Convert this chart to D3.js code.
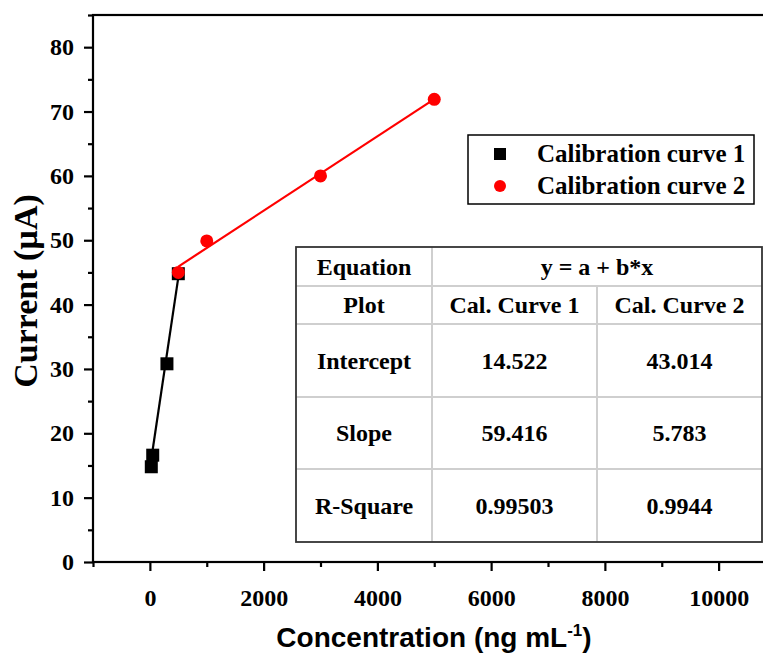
<!DOCTYPE html>
<html><head><meta charset="utf-8">
<script src="https://cdn.jsdelivr.net/npm/d3@7"></script>
<style>
html,body{margin:0;padding:0;background:#fff;}
svg{display:block;}
</style>
</head><body>
<svg id="chart" width="763" height="654"></svg>
<script>
// ---- data ----
const seriesNames = ["Calibration curve 1", "Calibration curve 2"];
const conc1 = [25, 50, 300, 500];
const current1 = [14.8, 16.6, 30.8, 44.8];
const conc2 = [500, 1000, 3000, 5000];
const current2 = [45.0, 49.9, 60.0, 71.9];
const fitIntercept = [14.522, 43.014];
const fitSlope = [59.416, 5.783];   // per µg mL-1
const rSquare = ["0.99503", "0.9944"];
const xMajorTicks = [0, 2000, 4000, 6000, 8000, 10000];
const xMinorTicks = [-1000, 1000, 3000, 5000, 7000, 9000, 11000];
const yMajorTicks = [0, 10, 20, 30, 40, 50, 60, 70, 80];
const yMinorTicks = [5, 15, 25, 35, 45, 55, 65, 75, 85];
const tableRowLabels = ["Equation", "Plot", "Intercept", "Slope", "R-Square"];
const tableColHeads = ["Cal. Curve 1", "Cal. Curve 2"];
const equationText = "y = a + b*x";

// ---- layout ----
const svg = d3.select("#chart");
const serif = "'Liberation Serif','Times New Roman',serif";
const sans = "'Liberation Sans',Arial,sans-serif";

const x = d3.scaleLinear().domain([-1000, 11000]).range([93, 775.5]);
const y = d3.scaleLinear().domain([0, 85]).range([562, 15]);

// frame
svg.append("rect")
  .attr("x", x(-1000)).attr("y", y(85))
  .attr("width", x(11000) - x(-1000)).attr("height", y(0) - y(85))
  .attr("fill", "none").attr("stroke", "#000").attr("stroke-width", 2.2);

function styleAxis(g, size) {
  g.select(".domain").remove();
  g.selectAll(".tick line").attr("stroke", "#000").attr("stroke-width", 2.2);
  g.selectAll(".tick text").attr("font-family", serif).attr("font-weight", "bold")
    .attr("font-size", size).attr("fill", "#000");
}

// x axis
const gxMinor = svg.append("g").attr("transform", `translate(0,${y(0)})`)
  .call(d3.axisBottom(x).tickValues(xMinorTicks).tickSize(5).tickFormat(""));
styleAxis(gxMinor, 0);
const gx = svg.append("g").attr("transform", `translate(0,${y(0)})`)
  .call(d3.axisBottom(x).tickValues(xMajorTicks).tickSize(9).tickPadding(18).tickFormat(d3.format("d")));
styleAxis(gx, 24);

// y axis
const gyMinor = svg.append("g").attr("transform", `translate(${x(-1000)},0)`)
  .call(d3.axisLeft(y).tickValues(yMinorTicks).tickSize(5).tickFormat(""));
styleAxis(gyMinor, 0);
const gy = svg.append("g").attr("transform", `translate(${x(-1000)},0)`)
  .call(d3.axisLeft(y).tickValues(yMajorTicks).tickSize(9).tickPadding(10));
styleAxis(gy, 24);

// axis titles
const xt = svg.append("text")
  .attr("x", 434).attr("y", 647)
  .attr("text-anchor", "middle")
  .attr("font-family", sans).attr("font-weight", "bold").attr("font-size", 28)
  .attr("fill", "#000");
xt.append("tspan").text("Concentration (ng mL");
xt.append("tspan").attr("font-size", 17).attr("dy", -11).text("-1");
xt.append("tspan").attr("dy", 11).text(")");

svg.append("text")
  .attr("transform", "translate(37,291) rotate(-90)")
  .attr("text-anchor", "middle")
  .attr("font-family", serif).attr("font-weight", "bold").attr("font-size", 34)
  .attr("fill", "#000")
  .text("Current (\u00B5A)");

// fit lines
const series = [
  {xs: conc1, ys: current1, color: "#000"},
  {xs: conc2, ys: current2, color: "#ff0000"}
];
series.forEach((s, i) => {
  const ext = d3.extent(s.xs);
  const pts = ext.map(v => [v, fitIntercept[i] + fitSlope[i] * v / 1000]);
  svg.append("path")
    .attr("d", d3.line().x(d => x(d[0])).y(d => y(d[1]))(pts))
    .attr("stroke", s.color).attr("stroke-width", 2.2).attr("fill", "none");
});

// points
const sq = 13;
svg.append("g").selectAll("rect").data(conc1.map((c, i) => [c, current1[i]]))
  .join("rect")
  .attr("x", d => x(d[0]) - sq / 2).attr("y", d => y(d[1]) - sq / 2)
  .attr("width", sq).attr("height", sq).attr("fill", "#000");
svg.append("g").selectAll("circle").data(conc2.map((c, i) => [c, current2[i]]))
  .join("circle")
  .attr("cx", d => x(d[0])).attr("cy", d => y(d[1])).attr("r", 6.5)
  .attr("fill", "#ff0000");

// legend
const lg = svg.append("g");
lg.append("rect").attr("x", 468).attr("y", 135).attr("width", 286).attr("height", 69)
  .attr("fill", "#fff").attr("stroke", "#000").attr("stroke-width", 1.5);
lg.append("rect").attr("x", 500 - 6).attr("y", 154 - 6).attr("width", 12).attr("height", 12).attr("fill", "#000");
lg.append("circle").attr("cx", 500).attr("cy", 186).attr("r", 6).attr("fill", "#ff0000");
seriesNames.forEach((n, i) => {
  lg.append("text").attr("x", 537).attr("y", 162 + i * 32)
    .attr("font-family", serif).attr("font-weight", "bold").attr("font-size", 25)
    .attr("fill", "#000").text(n);
});

// table
const colEdges = [296, 432, 597, 762];
const rowEdges = [247, 286, 324, 397, 469, 542];
const tg = svg.append("g");
tg.append("rect").attr("x", colEdges[0]).attr("y", rowEdges[0])
  .attr("width", colEdges[3] - colEdges[0]).attr("height", rowEdges[5] - rowEdges[0])
  .attr("fill", "#fff");
// inner lines
const grey = "#cfcfcf";
for (let r = 1; r < 5; r++) {
  tg.append("line").attr("x1", colEdges[0]).attr("x2", colEdges[3])
    .attr("y1", rowEdges[r]).attr("y2", rowEdges[r]).attr("stroke", grey).attr("stroke-width", 2);
}
tg.append("line").attr("x1", colEdges[1]).attr("x2", colEdges[1])
  .attr("y1", rowEdges[0]).attr("y2", rowEdges[5]).attr("stroke", grey).attr("stroke-width", 2);
tg.append("line").attr("x1", colEdges[2]).attr("x2", colEdges[2])
  .attr("y1", rowEdges[1]).attr("y2", rowEdges[5]).attr("stroke", grey).attr("stroke-width", 2);
tg.append("rect").attr("x", colEdges[0]).attr("y", rowEdges[0])
  .attr("width", colEdges[3] - colEdges[0]).attr("height", rowEdges[5] - rowEdges[0])
  .attr("fill", "none").attr("stroke", "#333").attr("stroke-width", 1.8);

const cells = [
  [tableRowLabels[0], equationText, null],
  [tableRowLabels[1], tableColHeads[0], tableColHeads[1]],
  [tableRowLabels[2], fitIntercept[0].toFixed(3), fitIntercept[1].toFixed(3)],
  [tableRowLabels[3], fitSlope[0].toFixed(3), fitSlope[1].toFixed(3)],
  [tableRowLabels[4], rSquare[0], rSquare[1]]
];
cells.forEach((row, r) => {
  const cy = (rowEdges[r] + rowEdges[r + 1]) / 2;
  row.forEach((txt, c) => {
    if (txt === null) return;
    let cx;
    if (r === 0 && c === 1) cx = (colEdges[1] + colEdges[3]) / 2;
    else cx = (colEdges[c] + colEdges[c + 1]) / 2;
    tg.append("text").attr("x", cx).attr("y", cy)
      .attr("dy", "0.35em").attr("text-anchor", "middle")
      .attr("font-family", serif).attr("font-weight", "bold").attr("font-size", 24)
      .attr("fill", "#000").text(txt);
  });
});
</script>
</body></html>
